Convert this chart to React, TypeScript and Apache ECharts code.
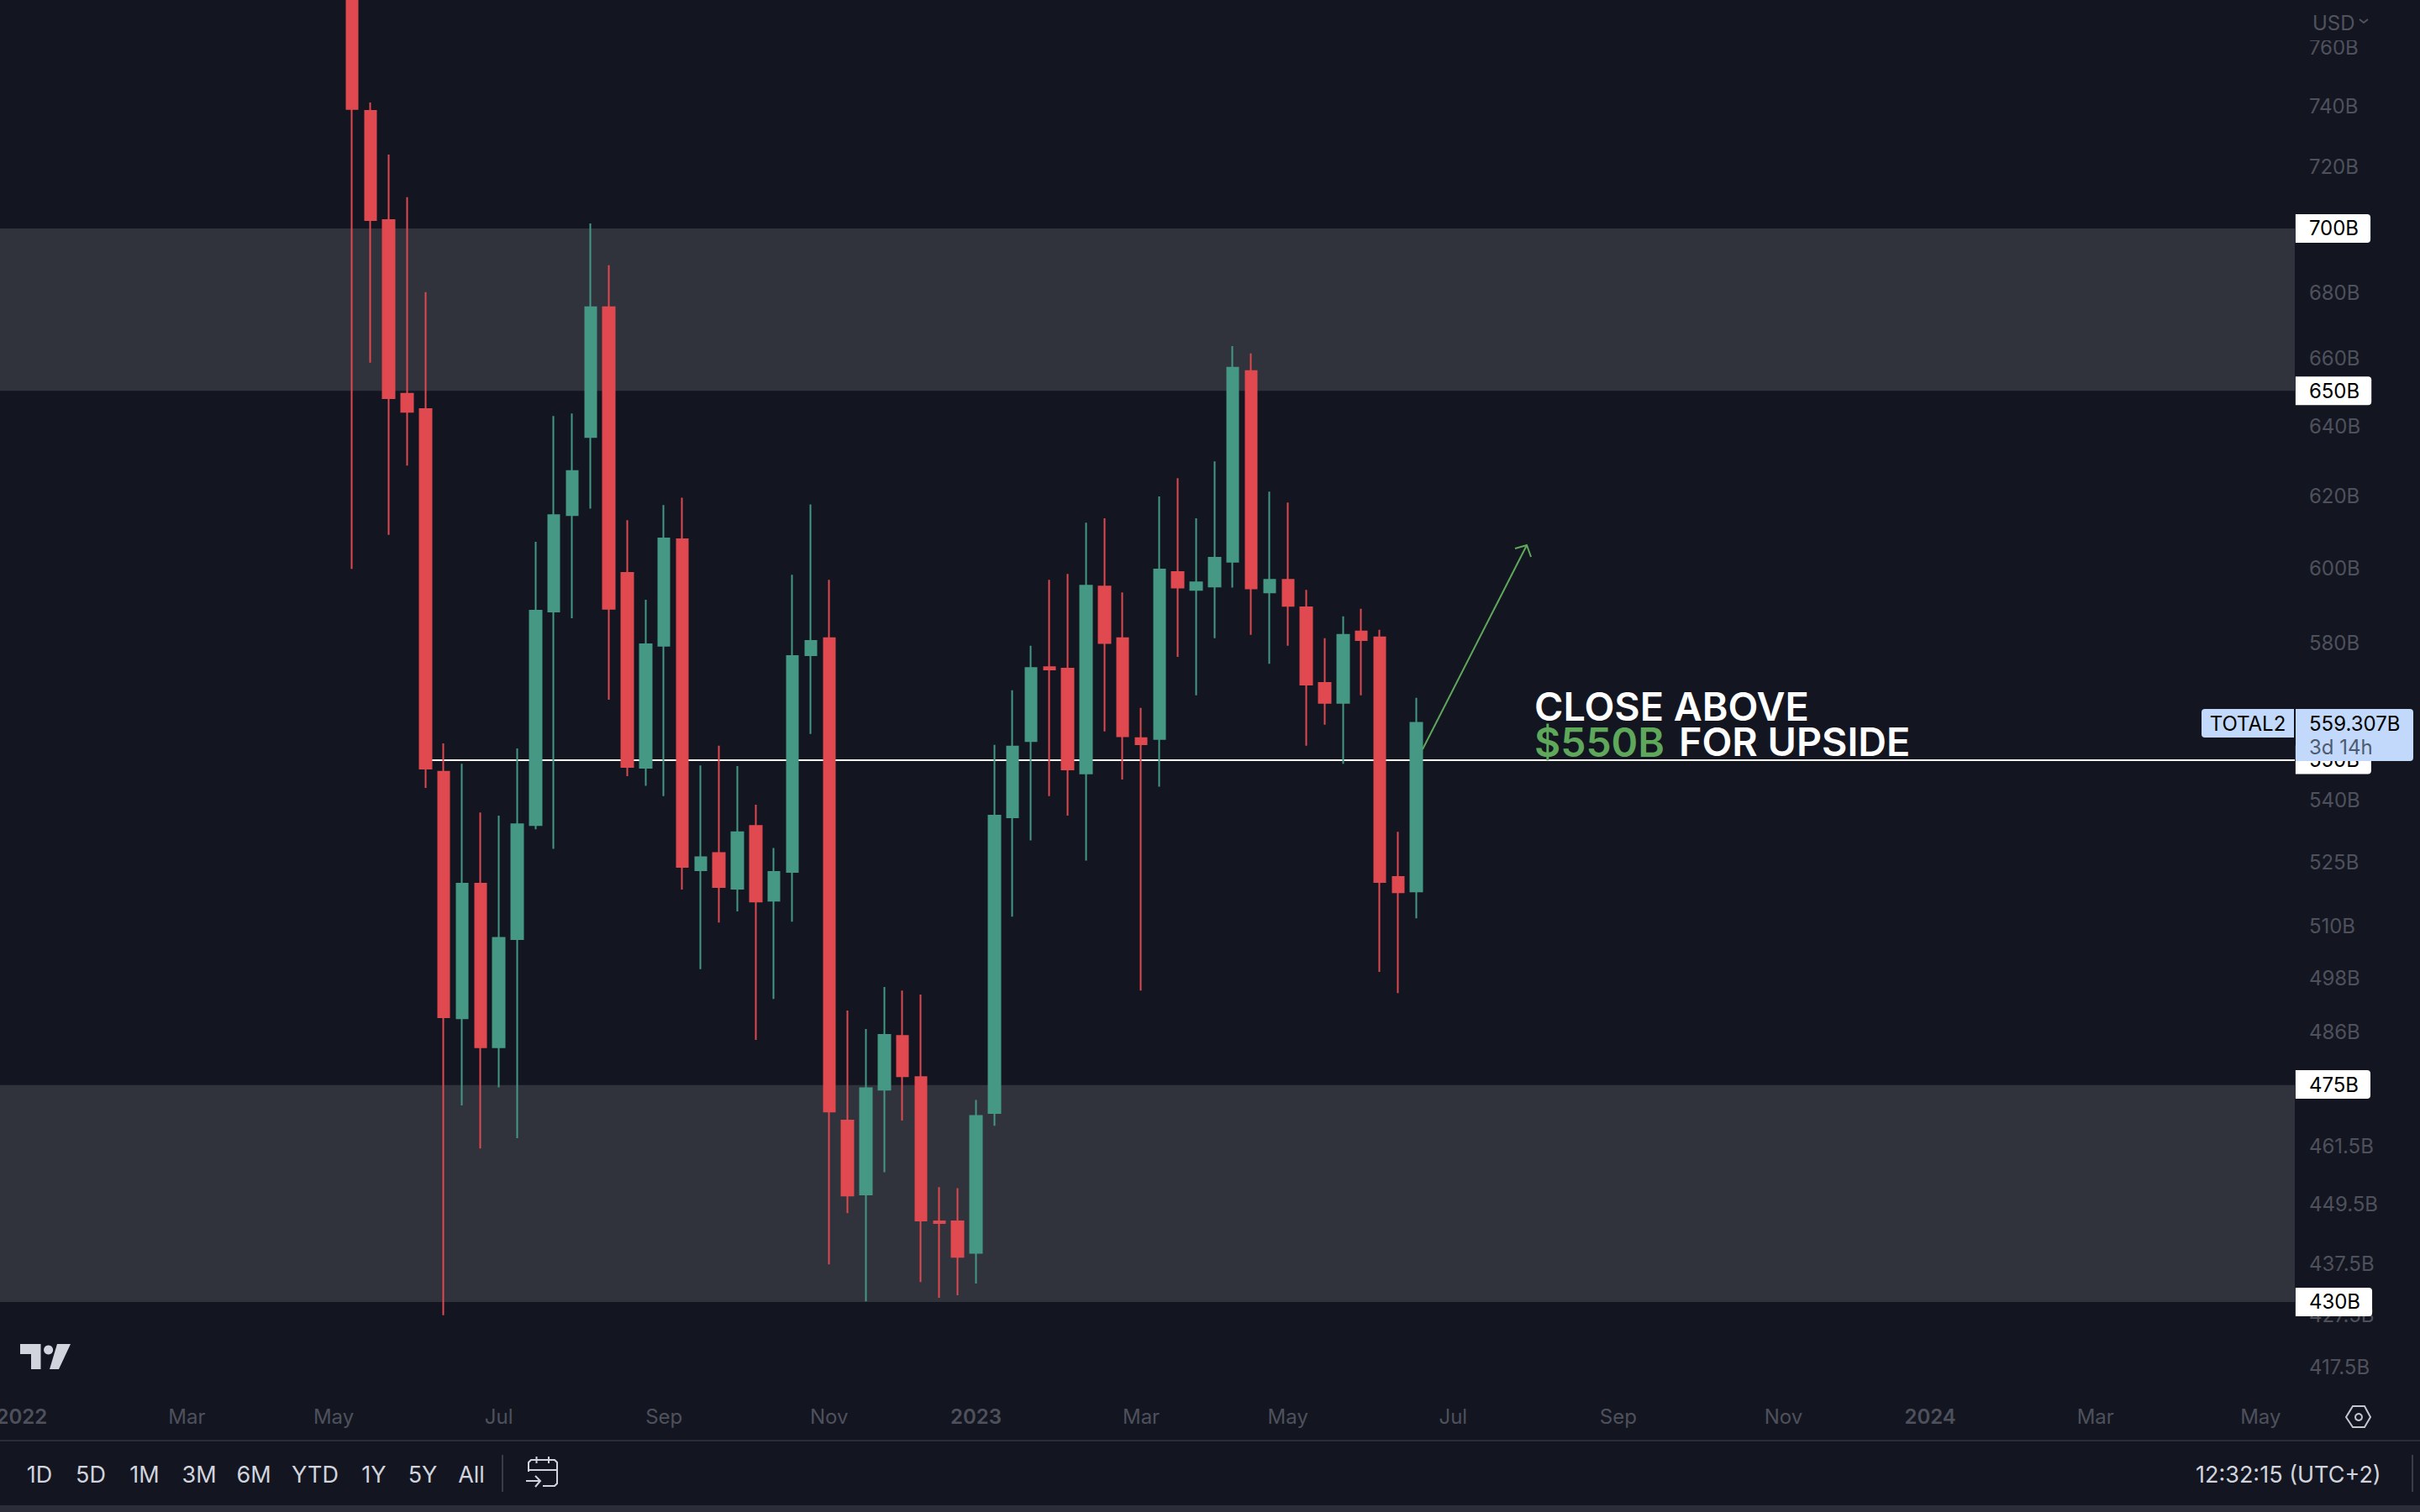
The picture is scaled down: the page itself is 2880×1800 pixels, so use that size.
import React, { useEffect, useRef } from "react";
import * as echarts from "echarts";

const BG = "#131621";
const FONT = "Inter";

const firstWeekUTC = Date.UTC(2021, 11, 20);
const weekCount = 127;
const firstCandleIndex = 20;

const opens = [806.8, 738.4, 702.7, 649.4, 644.9, 547.0, 489.1, 519.9, 482.7, 507.0, 533.9, 588.3, 614.6, 636.8, 675.4, 598.7, 548.0, 579.2, 607.9, 523.1, 527.2, 518.7, 533.7, 515.9, 522.7, 576.7, 581.2, 466.9, 451.5, 473.5, 485.2, 476.2, 446.0, 446.0, 439.7, 468.5, 535.8, 554.7, 573.6, 573.2, 546.6, 595.0, 581.2, 555.4, 555.2, 598.9, 594.1, 595.0, 601.7, 656.1, 593.4, 596.8, 589.4, 569.5, 564.4, 583.0, 581.4, 521.5, 518.1];
const closes = [739.0, 702.7, 648.1, 644.1, 547.8, 489.3, 519.9, 482.7, 507.3, 534.1, 588.5, 614.6, 627.0, 675.4, 589.0, 548.2, 579.6, 608.1, 523.9, 526.2, 519.1, 532.2, 515.7, 522.7, 576.5, 580.5, 468.8, 451.3, 473.8, 485.4, 476.4, 446.2, 445.7, 438.9, 467.9, 536.2, 553.3, 573.4, 573.0, 547.6, 595.2, 579.9, 555.9, 553.9, 599.6, 594.7, 596.1, 602.8, 657.1, 594.5, 596.8, 589.8, 569.1, 564.4, 582.1, 580.7, 520.3, 517.9, 559.3];
const lows = [599.8, 658.6, 609.1, 628.6, 543.0, 427.4, 470.1, 461.0, 474.0, 463.2, 532.9, 528.2, 586.5, 616.4, 565.2, 545.9, 543.5, 541.0, 518.5, 500.1, 510.8, 513.4, 484.3, 493.4, 511.0, 556.5, 437.4, 447.7, 430.1, 456.1, 466.9, 433.9, 430.8, 431.3, 433.6, 465.8, 512.2, 530.2, 541.0, 536.2, 525.4, 557.1, 545.1, 495.3, 543.3, 576.3, 566.3, 581.2, 594.7, 582.1, 574.5, 579.2, 553.5, 558.8, 549.0, 566.3, 499.5, 494.7, 511.8];
const highs = [830.0, 741.2, 723.9, 710.0, 680.1, 554.1, 549.0, 537.0, 536.2, 552.8, 607.2, 642.9, 643.6, 701.6, 688.4, 613.2, 591.4, 617.4, 619.5, 548.6, 553.5, 548.4, 538.9, 528.4, 598.2, 617.6, 596.8, 490.8, 486.7, 496.1, 495.3, 494.4, 453.0, 452.8, 471.3, 553.7, 567.6, 579.2, 596.8, 598.4, 612.5, 613.7, 593.4, 563.1, 619.8, 625.0, 613.7, 629.8, 663.6, 661.4, 621.2, 618.1, 594.1, 581.2, 587.0, 589.0, 583.4, 532.3, 565.7];

const priceTicks = [760, 740, 720, 680, 660, 640, 620, 600, 580, 540, 525, 510, 498, 486, 461.5, 449.5, 437.5, 427.5, 417.5];
const keyLevels = [700, 650.3, 550, 474.6, 430];
const supplyZone = [650.3, 700];
const demandZone = [430, 474.5];
const breakoutLevel = 550;
const axisMin = 413.9;
const axisMax = 776.5;

const timeLabelWeeks = ["2022-01-03", "2022-03-07", "2022-05-02", "2022-07-04", "2022-09-05", "2022-11-07", "2023-01-02", "2023-03-06", "2023-05-01", "2023-07-03", "2023-09-04", "2023-11-06", "2024-01-01", "2024-03-04", "2024-05-06"];
const timeLabelTexts = ["2022", "Mar", "May", "Jul", "Sep", "Nov", "2023", "Mar", "May", "Jul", "Sep", "Nov", "2024", "Mar", "May"];

const rangeButtons = ["1D", "5D", "1M", "3M", "6M", "YTD", "1Y", "5Y", "All"];
const rangeCenters = [47, 108, 172, 237, 302, 375, 445, 503, 561];

const weeks: string[] = [];
for (let i = 0; i < weekCount; i++) {
  weeks.push(new Date(firstWeekUTC + i * 7 * 86400000).toISOString().slice(0, 10));
}

const txt = (text: string, x: number, y: number, size: number, fill: string, extra: any = {}) => ({
  type: "text",
  z: extra.z ?? 30,
  style: {
    text, x, y, fill,
    fontFamily: FONT, fontSize: size, fontWeight: extra.weight ?? 400,
    textAlign: extra.align ?? "left", align: extra.align ?? "left",
    textVerticalAlign: "middle", verticalAlign: "middle",
  },
});

const stroke = (points: number[][], color: string, width = 2, z = 30) => ({
  type: "polyline",
  z,
  shape: { points },
  style: { stroke: color, lineWidth: width, fill: "none" },
});

export default function App() {
  const ref = useRef<HTMLDivElement>(null);

  useEffect(() => {
    const chart = echarts.init(ref.current!, undefined, { renderer: "svg" });
    const rows = opens.map((o, i) => [weeks[firstCandleIndex + i], o, closes[i], lows[i], highs[i]]);
    const first = weeks[0];
    const last = weeks[weekCount - 1];
    const UI = "#d1d4dc";
    const DIM = "#4e515c";
    const GREEN = "#5fa85b";

    chart.setOption({
      animation: false,
      backgroundColor: BG,
      grid: { left: -28.8, top: 0, width: 2773.68, height: 1650, outerBoundsMode: "none", containLabel: false },
      xAxis: {
        type: "category",
        data: weeks,
        boundaryGap: true,
        axisLine: { show: false },
        axisTick: { show: false },
        splitLine: { show: false },
        axisLabel: {
          margin: 24,
          color: DIM,
          fontFamily: FONT,
          fontSize: 24,
          interval: (_: number, v: string) => timeLabelWeeks.includes(v),
          formatter: (v: string) => {
            const t = timeLabelTexts[timeLabelWeeks.indexOf(v)] ?? "";
            return /^\d+$/.test(t) ? `{b|${t}}` : t;
          },
          rich: { b: { fontFamily: FONT, fontSize: 24, fontWeight: 600, color: DIM } },
        },
      },
      yAxis: [
        {
          type: "log",
          position: "right",
          min: axisMin,
          max: axisMax,
          z: 3,
          axisLine: { show: false },
          axisTick: { show: false },
          splitLine: { show: false },
          minorTick: { show: false },
          axisLabel: {
            customValues: priceTicks,
            margin: 3,
            color: DIM,
            fontFamily: FONT,
            fontSize: 24,
            formatter: (v: number) => `${v}B`,
          },
        },
        {
          type: "log",
          position: "right",
          min: axisMin,
          max: axisMax,
          z: 20,
          axisLine: { show: false },
          axisTick: { show: false },
          splitLine: { show: false },
          axisLabel: {
            customValues: keyLevels,
            margin: -13,
            color: "#000",
            backgroundColor: "#fff",
            padding: [5, 14, 5, 16],
            borderRadius: [0, 4, 4, 0],
            fontFamily: FONT,
            fontSize: 24,
            formatter: (v: number) => `${Math.round(v)}B`,
          },
        },
      ],
      series: [
        {
          type: "candlestick",
          name: "TOTAL2",
          data: rows,
          encode: { x: 0, y: [1, 2, 3, 4] },
          barWidth: 14,
          z: 2,
          itemStyle: {
            color: "#449884",
            color0: "#e0494f",
            borderColor: "#449884",
            borderColor0: "#e0494f",
            borderWidth: 2,
          },
          markArea: {
            silent: true,
            z: 1,
            itemStyle: { color: "#30333c" },
            data: [
              [{ xAxis: first, yAxis: supplyZone[1] }, { xAxis: last, yAxis: supplyZone[0] }],
              [{ xAxis: first, yAxis: demandZone[1] }, { xAxis: last, yAxis: demandZone[0] }],
            ],
          },
          markLine: {
            silent: true,
            z: 1,
            symbol: "none",
            label: { show: false },
            lineStyle: { color: "#ffffff", width: 2, type: "solid" },
            data: [[
              { xAxis: weeks[firstCandleIndex + 4], yAxis: breakoutLevel },
              { xAxis: last, yAxis: breakoutLevel },
            ]],
          },
        },
      ],
      graphic: [
        { type: "rect", z: 4, shape: { x: 2731, y: 0, width: 8, height: 1650 }, style: { fill: BG } },
        { type: "rect", z: 5, shape: { x: 2745, y: 0, width: 90, height: 48 }, style: { fill: BG } },
        txt("USD", 2752, 27, 24, "#50535e"),
        stroke([[2808, 23], [2813, 27], [2818, 23]], "#50535e"),

        // trade annotation
        stroke([[1693, 892], [1817, 649]], GREEN, 2, 6),
        stroke([[1803, 653], [1817, 649], [1822, 663]], GREEN, 2, 6),
        txt("CLOSE ABOVE", 1826, 841, 46.7, "#ffffff", { weight: 600, z: 6 }),
        txt("$550B", 1826, 883, 48, GREEN, { weight: 600, z: 6 }),
        txt("FOR UPSIDE", 1998, 883, 46.7, "#ffffff", { weight: 600, z: 6 }),

        // last price tag
        { type: "rect", z: 30, shape: { x: 2620, y: 844, width: 110, height: 34, r: [4, 0, 0, 4] }, style: { fill: "#c2d9fb" } },
        { type: "rect", z: 30, shape: { x: 2732, y: 844, width: 140, height: 62, r: [0, 4, 4, 0] }, style: { fill: "#c2d9fb" } },
        txt("TOTAL2", 2675, 861, 24, "#000", { align: "center", z: 31 }),
        txt("559.307B", 2748, 861, 24, "#000", { z: 31 }),
        txt("3d 14h", 2748, 889, 24, "#4e5b6f", { z: 31 }),

        // logo
        { type: "polygon", z: 30, shape: { points: [[24, 1600], [48.5, 1600], [48.5, 1630], [37, 1630], [37, 1612], [24, 1612]] }, style: { fill: UI } },
        { type: "circle", z: 30, shape: { cx: 57.6, cy: 1607, r: 5.5 }, style: { fill: UI } },
        { type: "polygon", z: 30, shape: { points: [[68, 1600], [84, 1600], [70, 1630], [59, 1630]] }, style: { fill: UI } },

        // settings
        { type: "polygon", z: 30, shape: { points: [[2792, 1687], [2800, 1674], [2814, 1674], [2821, 1687], [2814, 1699], [2800, 1699]] }, style: { fill: "none", stroke: "#c5c7cf", lineWidth: 2 } },
        { type: "circle", z: 30, shape: { cx: 2807, cy: 1687, r: 4 }, style: { fill: "none", stroke: "#c5c7cf", lineWidth: 2 } },

        // footer
        { type: "rect", z: 30, shape: { x: 0, y: 1714, width: 2880, height: 2 }, style: { fill: "#2a2d38" } },
        { type: "rect", z: 30, shape: { x: 0, y: 1792, width: 2880, height: 8 }, style: { fill: "#2b2e39" } },
        ...rangeButtons.map((b, i) => txt(b, rangeCenters[i], 1755, 27, UI, { align: "center" })),
        { type: "rect", z: 30, shape: { x: 597, y: 1732, width: 2, height: 44 }, style: { fill: "#3a3d48" } },
        stroke([[629, 1752], [629, 1741], [632, 1738], [660, 1738], [663, 1741], [663, 1766], [660, 1769], [646, 1769]], UI),
        stroke([[629, 1750], [663, 1750]], UI),
        stroke([[638.5, 1734], [638.5, 1742]], UI),
        stroke([[653, 1734], [653, 1742]], UI),
        stroke([[626, 1763], [643, 1763]], UI),
        stroke([[637, 1757], [643, 1763], [637, 1770]], UI),
        txt("12:32:15 (UTC+2)", 2613, 1755, 27, UI),
        { type: "rect", z: 30, shape: { x: 2870, y: 1732, width: 2, height: 44 }, style: { fill: "#3a3d48" } },
      ],
    });

    return () => chart.dispose();
  }, []);

  return <div ref={ref} style={{ position: "fixed", left: 0, top: 0, width: 2880, height: 1800 }} />;
}
